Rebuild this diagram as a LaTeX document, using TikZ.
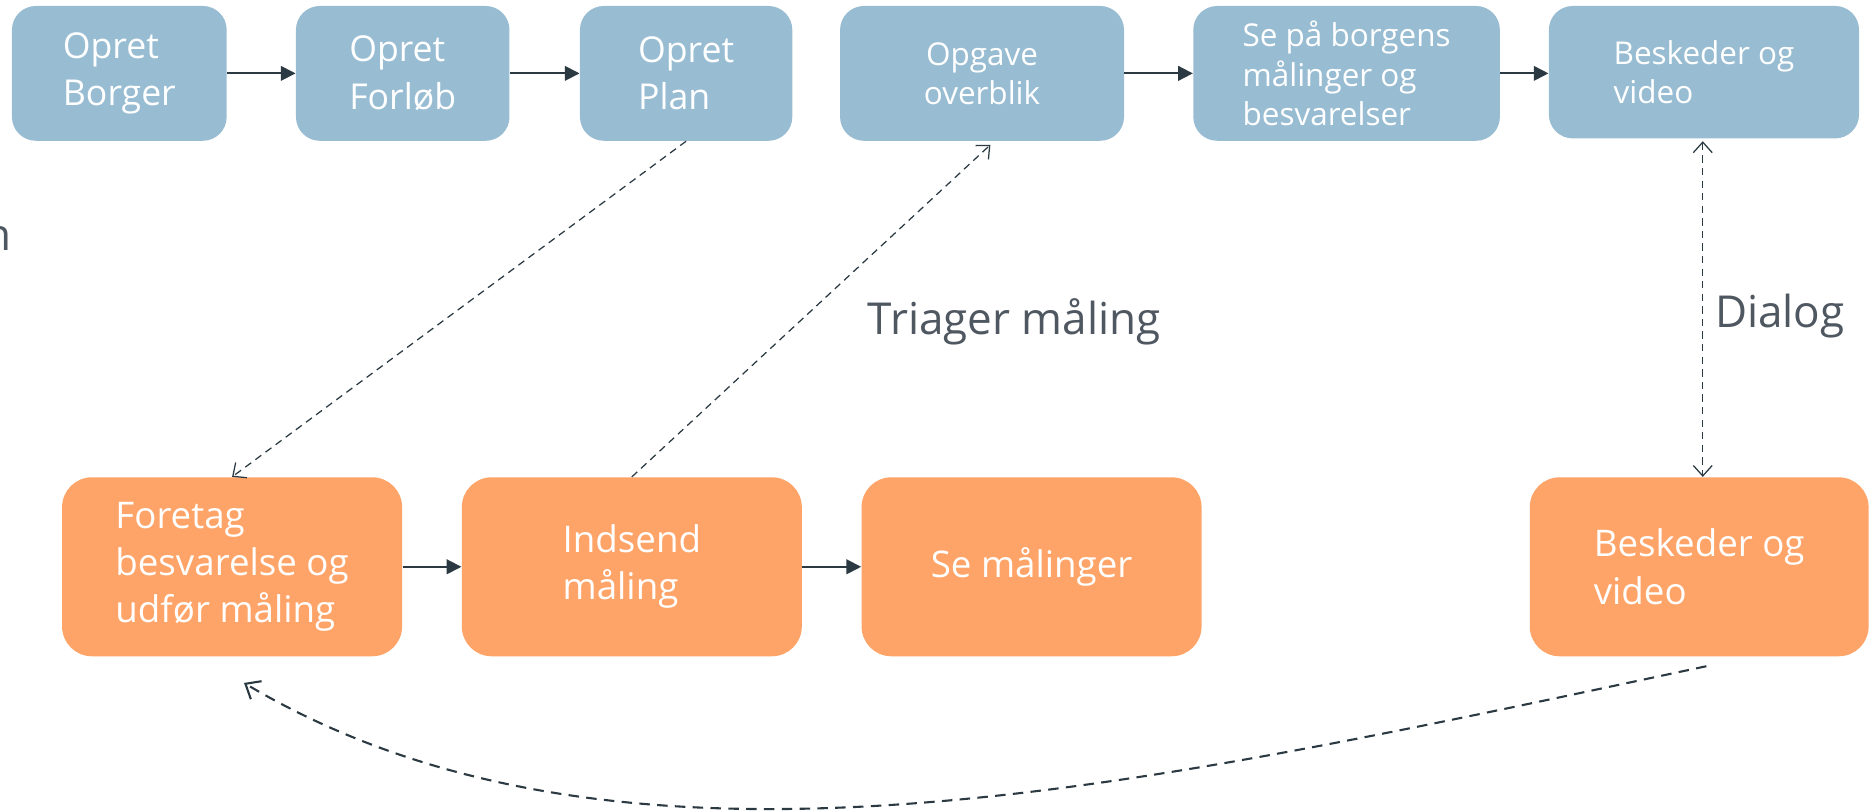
\documentclass[tikz,border=0pt]{standalone}
\usepackage{fontspec}
\setmainfont{Open Sans}
\usetikzlibrary{arrows.meta,calc}
\definecolor{boxblue}{HTML}{98BDD3}
\definecolor{boxorange}{HTML}{FFA468}
\definecolor{arrowdark}{HTML}{2B3A42}
\definecolor{labelgray}{HTML}{4F5761}
\begin{document}
\begin{tikzpicture}[x=0.02cm,y=-0.02cm,
  bluebox/.style={rectangle, rounded corners=0.4cm, fill=boxblue, text=white, inner sep=0pt, minimum height=2.26cm},
  orangebox/.style={rectangle, rounded corners=0.5cm, fill=boxorange, text=white, inner sep=0pt, minimum height=3.0cm, minimum width=5.7cm, font=\fontsize{17.5}{22.5}\selectfont},
  bigtxt/.style={font=\fontsize{17}{22.7}\selectfont},
  smalltxt/.style={font=\fontsize{15}{18.7}\selectfont},
  flowarrow/.style={draw=arrowdark, line width=0.85pt, -{Triangle[length=7pt,width=7pt]}},
  dasharrow/.style={draw=arrowdark, line width=0.6pt, dash pattern=on 3.5pt off 2.5pt, -{Straight Barb[length=5pt,width=9pt]}},
  dialogarrow/.style={draw=arrowdark, line width=0.6pt, dash pattern=on 3.5pt off 2.5pt, {Straight Barb[length=5pt,width=9pt]}-{Straight Barb[length=5pt,width=9pt]}},
  curvearrow/.style={draw=arrowdark, line width=1pt, dash pattern=on 5pt off 3.5pt, -{Straight Barb[length=6pt,width=10pt]}},
  lbl/.style={text=labelgray, inner sep=0pt, font=\fontsize{21}{25}\selectfont}]
\useasboundingbox (0,0) rectangle (1568,679);

% top row
\node[bluebox, bigtxt, minimum width=3.6cm, align=left] (b1) at (100,61.5) {Opret\\Borger};
\node[bluebox, bigtxt, minimum width=3.58cm, align=left] (b2) at (337.5,61.5) {Opret\\Forløb};
\node[bluebox, bigtxt, minimum width=3.56cm, align=left] (b3) at (575,61.5) {Opret\\Plan};
\node[bluebox, smalltxt, minimum width=4.76cm, align=center] (b4) at (823,61.5) {Opgave\\overblik};
\node[bluebox, smalltxt, minimum width=5.14cm, align=left] (b5) at (1128.5,61.5) {Se på borgens\\målinger og\\besvarelser};
\node[bluebox, smalltxt, minimum width=5.2cm, minimum height=2.22cm, align=left] (b6) at (1428,60.5) {Beskeder og\\video};

% bottom row
\node[orangebox, align=left] (o1) at (194.5,475) {Foretag\\besvarelse og\\udfør måling};
\node[orangebox, align=left] (o2) at (529.5,475) {Indsend\\måling};
\node[orangebox, align=center] (o3) at (864.5,475) {Se målinger};
\node[orangebox, minimum width=5.68cm, align=left] (o4) at (1424,475) {Beskeder og\\video};

% labels
\node[lbl, anchor=west] (triage) at (727,270) {Triager måling};
\node[lbl, anchor=west] (dialog) at (1437,265) {Dialog};
\node[lbl, anchor=base east] (cut) at (10,210) {n};

% solid flow arrows
\draw[flowarrow] (b1) -- (b2);
\draw[flowarrow] (b2) -- (b3);
\draw[flowarrow] (b4) -- (b5);
\draw[flowarrow] (b5.east) -- (b5.east -| b6.west);
\draw[flowarrow] (o1) -- (o2);
\draw[flowarrow] (o2) -- (o3);

% dashed arrows
\draw[dasharrow] (b3.south) -- (o1.north);
\coordinate (b4in) at ($(b4.south)+(7,3)$);
\draw[dasharrow] (o2.north) -- (b4in);
\coordinate (dtop) at ($(b6.south)+(-1,2)$);
\draw[dialogarrow] (dtop) -- (dtop |- o4.north);
\coordinate (cstart) at ($(o4.south)+(6,8)$);
\coordinate (cend) at ($(o1.south)+(10,22)$);
\draw[curvearrow] (cstart) .. controls (950,660) and (520,760) .. (cend);
\end{tikzpicture}
\end{document}
